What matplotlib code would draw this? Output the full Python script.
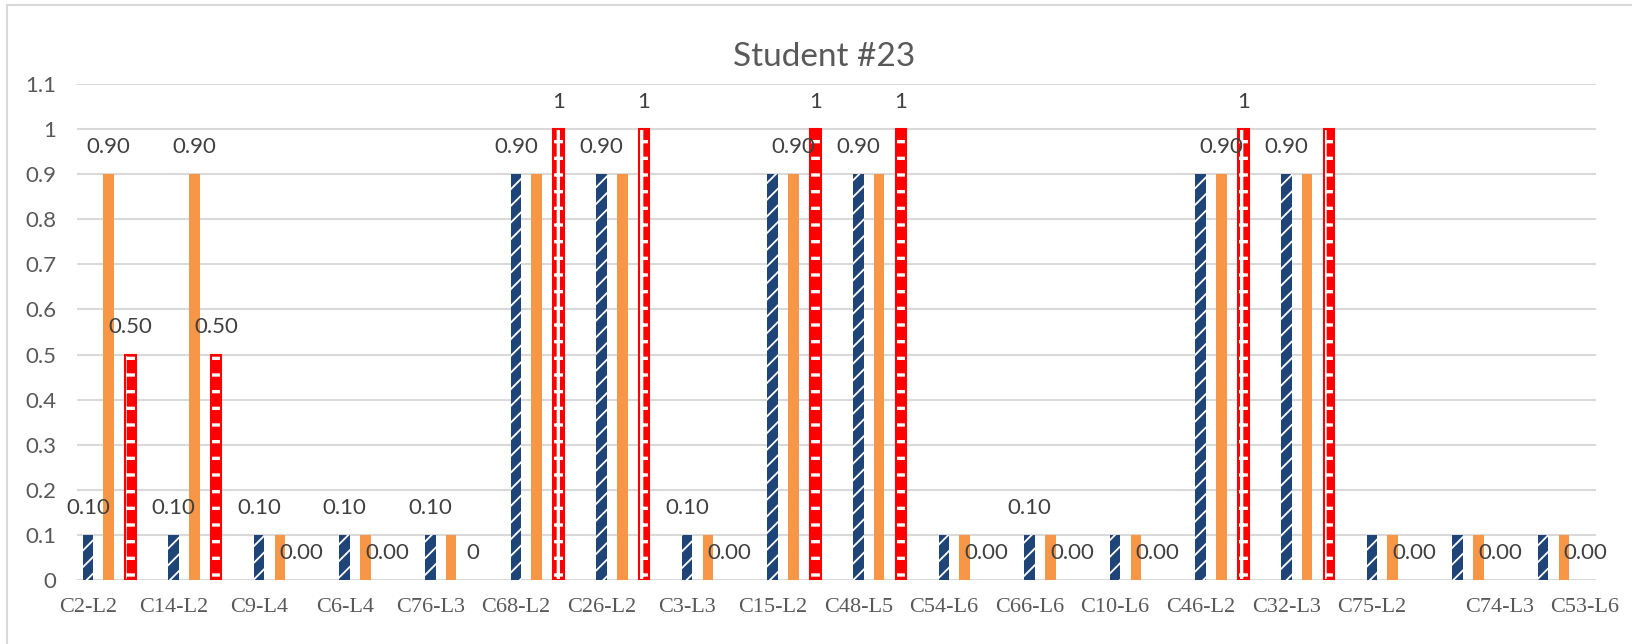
import matplotlib
matplotlib.use("Agg")
import matplotlib.pyplot as plt
import numpy as np
from matplotlib.lines import Line2D

# ---------------- data ----------------
categories = ["C2-L2", "C14-L2", "C9-L4", "C6-L4", "C76-L3", "C68-L2", "C26-L2", "C3-L3",
              "C15-L2", "C48-L5", "C54-L6", "C66-L6", "C10-L6", "C46-L2", "C32-L3", "C75-L2",
              "C74-L3", "C53-L6"]
series_blue = [0.1, 0.1, 0.1, 0.1, 0.1, 0.9, 0.9, 0.1, 0.9, 0.9, 0.1, 0.1, 0.1, 0.9, 0.9, 0.1, 0.1, 0.1]
series_orange = [0.9, 0.9, 0.1, 0.1, 0.1, 0.9, 0.9, 0.1, 0.9, 0.9, 0.1, 0.1, 0.1, 0.9, 0.9, 0.1, 0.1, 0.1]
series_red = [0.5, 0.5, 0, 0, 0, 1, 1, 0, 1, 1, 0, 0, 0, 1, 1, 0, 0, 0]

labels_blue = ["0.10", "0.10", "0.10", "0.10", "0.10", "0.90", "0.90", "0.10", "", "0.90",
               "", "0.10", "", "", "0.90", "", "", ""]
labels_orange = ["0.90", "0.90", "", "", "", "", "", "", "0.90", "", "", "", "", "0.90",
                 "", "", "", ""]
labels_red = ["0.50", "0.50", "0.00", "0.00", "0", "1", "1", "0.00", "1", "1", "0.00",
              "0.00", "0.00", "1", "", "0.00", "0.00", "0.00"]

yticks = [0, 0.1, 0.2, 0.3, 0.4, 0.5, 0.6, 0.7, 0.8, 0.9, 1, 1.1]
ytick_labels = ["0", "0.1", "0.2", "0.3", "0.4", "0.5", "0.6", "0.7", "0.8", "0.9", "1", "1.1"]
title = "Student #23"

# ---------------- style ----------------
W, H = 1632, 644
BLUE = "#1F4478"
ORANGE = "#F79646"
RED = "#FF0000"
GRID = "#D9D9D9"
TXT = "#595959"
SANS = ["Lato", "DejaVu Sans"]
SERIF = ["Liberation Serif", "DejaVu Serif"]

fig = plt.figure(figsize=(W / 100, H / 100), dpi=100)
ax_left, ax_right, ax_top, ax_bottom = 77, 1596, 84, 580
ax = fig.add_axes([ax_left / W, 1 - ax_bottom / H, (ax_right - ax_left) / W, (ax_bottom - ax_top) / H])

n = len(categories)
x = np.arange(n)
px_per_cat = 85.6
ax.set_xlim(-0.5, -0.5 + (ax_right - ax_left) / px_per_cat)
ax.set_ylim(0, 1.1)

bw = 0.124
off_blue, off_orange, off_red = -0.373, -0.130, 0.124

with plt.rc_context({"hatch.linewidth": 1.3}):
    ax.bar(x + off_blue, series_blue, width=bw, color=BLUE, edgecolor="white",
           linewidth=0, hatch="//", zorder=3)
ax.bar(x + off_orange, series_orange, width=bw, color=ORANGE, linewidth=0, zorder=3)
with plt.rc_context({"hatch.linewidth": 2.4}):
    ax.bar(x + off_red, series_red, width=bw, color=RED, edgecolor="white",
           linewidth=0, hatch="+", zorder=3)
red_edge_w = [1.5 if v > 0 else 0 for v in series_red]
ax.bar(x + off_red, series_red, width=bw, facecolor="none", edgecolor=RED,
       linewidth=red_edge_w, zorder=4)

# data labels
for off, vals, labs in [(off_blue, series_blue, labels_blue),
                        (off_orange, series_orange, labels_orange),
                        (off_red, series_red, labels_red)]:
    for xi, v, lab in zip(x, vals, labs):
        if lab:
            ax.annotate(lab, xy=(xi + off, v), xytext=(0, 19.5), textcoords="offset points",
                        ha="center", va="center", fontsize=16, color="#404040",
                        family=SANS, zorder=5)

# grid
ax.set_yticks(yticks)
ax.set_yticklabels(ytick_labels, family=SANS, fontsize=16, color=TXT)
ax.yaxis.grid(True, color=GRID, linewidth=1.5, zorder=0)
ax.set_axisbelow(True)
for s in ax.spines.values():
    s.set_visible(False)
ax.tick_params(axis="y", length=0, pad=15)
ax.tick_params(axis="x", length=0, pad=13)

# x tick labels (last two are shifted right in the original)
tick_pos = x + off_blue
tick_pos = tick_pos + np.where(x >= n - 2, 0.49, 0.0)
ax.set_xticks(tick_pos)
ax.set_xticklabels(categories, family=SERIF, fontsize=16, color=TXT)

fig.text(824 / W, 1 - 57 / H, title, ha="center", va="center", fontsize=24,
         color=TXT, family=SANS)

# chart border (left & top visible)
fig.add_artist(Line2D([7 / W, 7 / W], [0, 1 - 5 / H], color=GRID, linewidth=1.5))
fig.add_artist(Line2D([7 / W, 1], [1 - 5 / H, 1 - 5 / H], color=GRID, linewidth=1.5))

fig.savefig("out.png", dpi=100, facecolor="white")
